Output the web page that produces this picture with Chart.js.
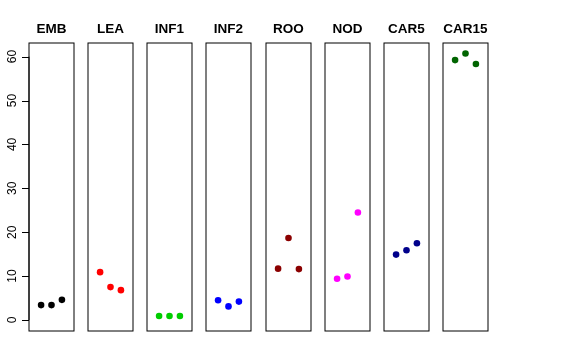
<!DOCTYPE html>
<html>
<head>
<meta charset="utf-8">
<script src="https://cdn.jsdelivr.net/npm/chart.js@4"></script>
<style>
  html, body { margin: 0; padding: 0; background: #fff; }
  #wrap { position: relative; width: 576px; height: 360px; overflow: hidden; }
  .panel { position: absolute; top: 0; width: 103px; height: 360px; }
</style>
</head>
<body>
<div id="wrap"></div>
<script>
// ── data ──────────────────────────────────────────────────────────────────
const panelNames = ["EMB", "LEA", "INF1", "INF2", "ROO", "NOD", "CAR5", "CAR15"];
const xPos  = [1, 2, 3];
const emb   = [3.4, 3.4, 4.6];
const lea   = [10.9, 7.5, 6.8];
const inf1  = [0.9, 0.9, 0.9];
const inf2  = [4.5, 3.1, 4.2];
const roo   = [11.7, 18.7, 11.6];
const nod   = [9.4, 9.9, 24.5];
const car5  = [14.9, 15.9, 17.5];
const car15 = [59.2, 60.7, 58.3];
const yTicks = [0, 10, 20, 30, 40, 50, 60];

const series = [emb, lea, inf1, inf2, roo, nod, car5, car15];

// ── styles ────────────────────────────────────────────────────────────────
const COLORS = ["#000000", "#ff0000", "#00cd00", "#0000ff", "#8b0000", "#ff00ff", "#00008b", "#006400"];
const FONT = "'Liberation Sans', Arial, sans-serif";
const PAD = 29;        // side padding of each canvas
const PITCH = 59.14;   // distance between panel boxes

// box around each panel
const boxPlugin = {
  id: "box",
  afterDraw(chart) {
    const { ctx, chartArea: a } = chart;
    ctx.save();
    ctx.strokeStyle = "#000";
    ctx.lineWidth = 1;
    ctx.strokeRect(a.left, a.top, a.right - a.left, a.bottom - a.top);
    ctx.restore();
  },
};

// R style left axis, only on the first panel
const yAxisPlugin = {
  id: "rAxis",
  afterDraw(chart) {
    const { ctx, chartArea: a, scales } = chart;
    const y = scales.y;
    const x0 = a.left;
    ctx.save();
    ctx.strokeStyle = "#000";
    ctx.lineWidth = 1;
    ctx.beginPath();
    ctx.moveTo(x0, y.getPixelForValue(yTicks[0]));
    ctx.lineTo(x0, y.getPixelForValue(yTicks[yTicks.length - 1]));
    yTicks.forEach((v) => {
      const py = Math.round(y.getPixelForValue(v)) + 0.5;
      ctx.moveTo(x0 - 7, py);
      ctx.lineTo(x0, py);
    });
    ctx.stroke();
    ctx.fillStyle = "#000";
    ctx.font = "12px " + FONT;
    ctx.textAlign = "center";
    ctx.textBaseline = "middle";
    yTicks.forEach((v) => {
      ctx.save();
      ctx.translate(x0 - 16, y.getPixelForValue(v));
      ctx.rotate(-Math.PI / 2);
      ctx.fillText(String(v), 0, 0);
      ctx.restore();
    });
    ctx.restore();
  },
};

const wrap = document.getElementById("wrap");

panelNames.forEach((name, i) => {
  const div = document.createElement("div");
  div.className = "panel";
  div.style.left = (29 + i * PITCH - PAD) + "px";
  const canvas = document.createElement("canvas");
  div.appendChild(canvas);
  wrap.appendChild(div);

  new Chart(canvas, {
    type: "scatter",
    data: {
      datasets: [
        {
          data: xPos.map((x, j) => ({ x, y: series[i][j] })),
          backgroundColor: COLORS[i],
          borderColor: COLORS[i],
          pointRadius: 3.3,
          pointBorderWidth: 0,
        },
      ],
    },
    options: {
      responsive: true,
      maintainAspectRatio: false,
      animation: false,
      layout: { padding: { left: PAD, right: PAD, top: 0, bottom: 29 } },
      scales: {
        x: { type: "linear", min: -0.16, max: 4.16, display: false },
        y: { type: "linear", min: -2.5, max: 63.1, display: false },
      },
      plugins: {
        legend: { display: false },
        tooltip: { enabled: false },
        title: {
          display: true,
          text: name,
          color: "#000",
          font: { family: FONT, size: 13.5, weight: "bold", lineHeight: 1 },
          padding: { top: 22.5, bottom: 7 },
        },
      },
    },
    plugins: i === 0 ? [boxPlugin, yAxisPlugin] : [boxPlugin],
  });
});
</script>
</body>
</html>
